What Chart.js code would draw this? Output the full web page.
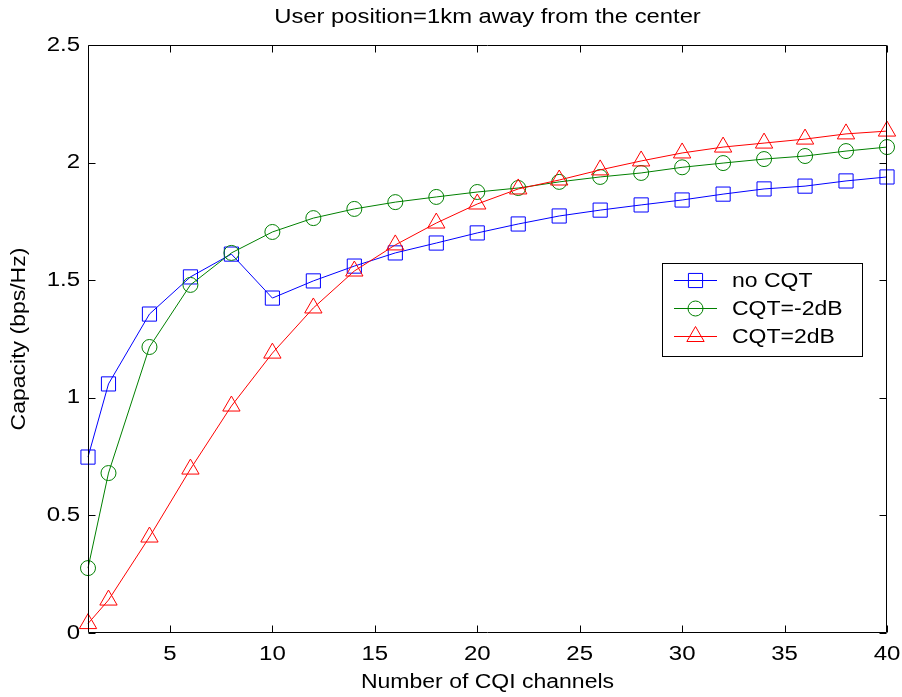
<!DOCTYPE html>
<html>
<head>
<meta charset="utf-8">
<script src="https://cdn.jsdelivr.net/npm/chart.js@4"></script>
<style>
html,body{margin:0;padding:0;background:#fff;}
#wrap{width:902px;height:697px;position:relative;}
</style>
</head>
<body>
<div id="wrap"><canvas id="c" width="902" height="697"></canvas></div>
<script>
const titleText = "User position=1km away from the center";
const xTitle = "Number of CQI channels";
const yTitle = "Capacity (bps/Hz)";
const channels = [1,2,4,6,8,10,12,14,16,18,20,22,24,26,28,30,32,34,36,38,40];
const noCQT   = [0.748,1.059,1.356,1.514,1.611,1.424,1.497,1.560,1.616,1.658,1.701,1.739,1.773,1.798,1.820,1.841,1.866,1.888,1.900,1.922,1.939];
const cqtM2dB = [0.276,0.680,1.216,1.480,1.616,1.705,1.764,1.803,1.832,1.854,1.875,1.892,1.918,1.939,1.956,1.980,1.998,2.015,2.028,2.049,2.066];
const cqtP2dB = [0.040,0.140,0.408,0.697,0.965,1.190,1.382,1.539,1.650,1.743,1.824,1.888,1.926,1.969,2.007,2.041,2.066,2.083,2.100,2.122,2.134];
const xTicks = [5,10,15,20,25,30,35,40];
const xTickLabels = ["5","10","15","20","25","30","35","40"];
const yTicks = [0,0.5,1,1.5,2,2.5];
const yTickLabels = ["0","0.5","1","1.5","2","2.5"];
const seriesNames = ["no CQT","CQT=-2dB","CQT=2dB"];
const FONT = "'Liberation Sans', Arial, sans-serif";
const FS = 20, SX = 1.15, TSX = 1.2, TITLESX = 1.19;

function pts(ys){ return channels.map((x,i)=>({x:x,y:ys[i]})); }

function txt(ctx,t,x,y,align,sx,rot){
  ctx.save();
  ctx.translate(x,y);
  if(rot) ctx.rotate(rot);
  ctx.scale(sx,1);
  ctx.textAlign=align; ctx.textBaseline='middle';
  ctx.fillText(t,0,0);
  ctx.restore();
}

const frameTicks = {
  id:'frameTicks',
  afterDatasetsDraw(chart){
    const {ctx, chartArea:a, scales:{x,y}} = chart;
    ctx.save();
    ctx.strokeStyle='#000'; ctx.lineWidth=1;
    ctx.beginPath();
    const L=Math.round(a.left)+0.5, R=Math.round(a.right)-0.5, T=Math.round(a.top)+0.5, B=Math.round(a.bottom)-0.5;
    ctx.rect(L,T,R-L,B-T);
    const tl=7;
    xTicks.forEach(v=>{const px=Math.round(x.getPixelForValue(v))+0.5; ctx.moveTo(px,B); ctx.lineTo(px,B-tl); ctx.moveTo(px,T); ctx.lineTo(px,T+tl);});
    yTicks.forEach(v=>{const py=Math.round(y.getPixelForValue(v))+0.5; ctx.moveTo(L,py); ctx.lineTo(L+tl,py); ctx.moveTo(R,py); ctx.lineTo(R-tl,py);});
    ctx.stroke();
    ctx.fillStyle='#000'; ctx.font=FS+'px '+FONT;
    xTicks.forEach((v,i)=>txt(ctx,xTickLabels[i],x.getPixelForValue(v),654,'center',TSX));
    yTicks.forEach((v,i)=>txt(ctx,yTickLabels[i],80,y.getPixelForValue(v),'right',TSX));
    const cx=(a.left+a.right)/2, cy=(a.top+a.bottom)/2;
    txt(ctx,titleText,cx,17,'center',TITLESX);
    txt(ctx,xTitle,cx,682,'center',SX);
    txt(ctx,yTitle,19,cy,'center',SX,-Math.PI/2);
    ctx.restore();
  },
  afterDraw(chart){
    const {ctx} = chart;
    ctx.save();
    const bx=662.5, by=263.5, bw=200, bh=93;
    ctx.fillStyle='#fff'; ctx.fillRect(bx,by,bw,bh);
    ctx.strokeStyle='#000'; ctx.lineWidth=1; ctx.strokeRect(bx,by,bw,bh);
    const rows=[280,308,336];
    chart.data.datasets.forEach((ds,i)=>{
      const yy=rows[i]+0.5;
      ctx.strokeStyle=ds.borderColor; ctx.lineWidth=1;
      ctx.beginPath(); ctx.moveTo(674,yy); ctx.lineTo(717,yy); ctx.stroke();
      ctx.fillStyle='rgba(0,0,0,0)';
      Chart.helpers.drawPoint(ctx,{pointStyle:ds.pointStyle,radius:ds.pointRadius,rotation:0,borderWidth:1},695.5,yy);
      ctx.fillStyle='#000'; ctx.font=FS+'px '+FONT;
      txt(ctx,ds.label,732,rows[i]+1,'left',SX);
    });
    ctx.restore();
  }
};

function mk(label,ys,color,style,r,order){
  return {label:label,data:pts(ys),borderColor:color,backgroundColor:'rgba(0,0,0,0)',
    borderWidth:1,pointStyle:style,pointRadius:r,pointBorderWidth:1,pointBorderColor:color,
    pointBackgroundColor:'rgba(0,0,0,0)',tension:0,clip:false,order:order};
}

new Chart(document.getElementById('c'),{
  type:'line',
  data:{datasets:[
    mk(seriesNames[0],noCQT,'#0000ff','rect',10,2),
    mk(seriesNames[1],cqtM2dB,'#008000','circle',7.5,1),
    mk(seriesNames[2],cqtP2dB,'#ff0000','triangle',10,0)
  ]},
  options:{
    responsive:false,animation:false,devicePixelRatio:1,
    layout:{padding:{left:0,right:15,top:45,bottom:0}},
    plugins:{legend:{display:false},title:{display:false},tooltip:{enabled:false}},
    scales:{
      x:{type:'linear',min:1,max:40,
        afterBuildTicks(s){s.ticks=xTicks.map(v=>({value:v}));},
        afterFit(s){s.height=64;},
        grid:{display:false,drawTicks:false},border:{display:false},
        ticks:{display:false},
        title:{display:false,text:xTitle}
      },
      y:{type:'linear',min:0,max:2.5,
        afterBuildTicks(s){s.ticks=yTicks.map(v=>({value:v}));},
        afterFit(s){s.width=88;},
        grid:{display:false,drawTicks:false},border:{display:false},
        ticks:{display:false},
        title:{display:false,text:yTitle}
      }
    }
  },
  plugins:[frameTicks]
});
</script>
</body>
</html>
